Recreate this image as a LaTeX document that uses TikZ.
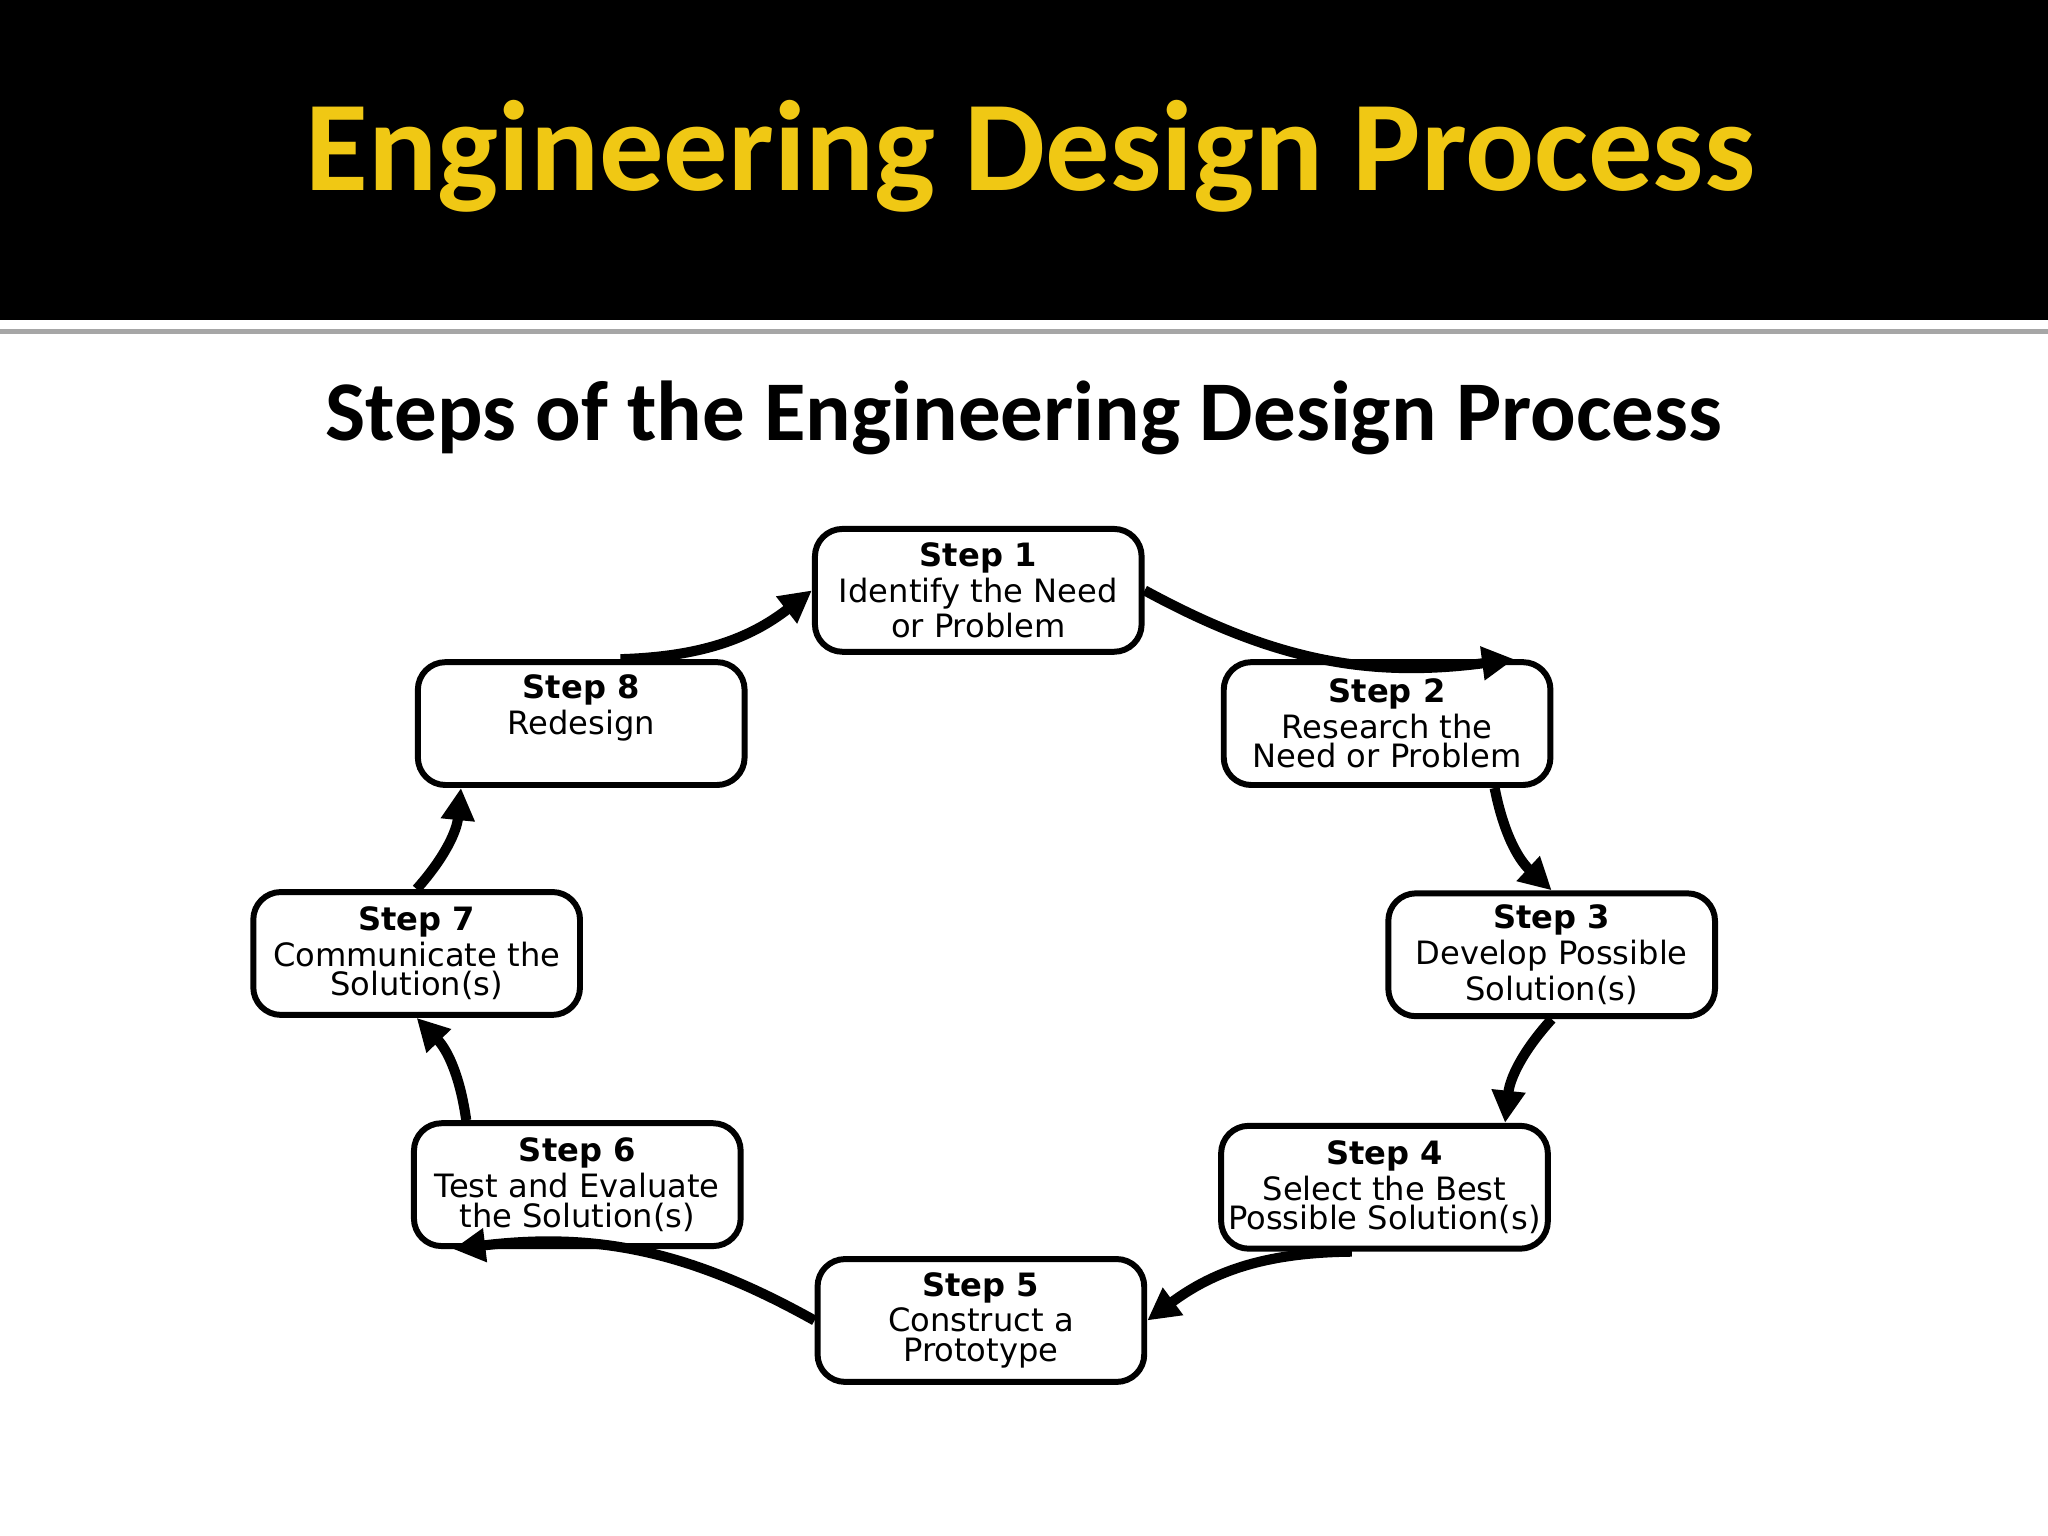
\documentclass[tikz,border=0pt]{standalone}
\usepackage{fontspec}
\setmainfont{DejaVu Sans}
\newfontfamily\titlefont{Carlito}
\usetikzlibrary{arrows.meta}
\begin{document}
\begin{tikzpicture}[x=0.01cm,y=-0.01cm,
  stepbox/.style={draw=black,line width=1.3pt,rounded corners=6pt,minimum width=2.5cm,minimum height=0.94cm,align=center,inner sep=0pt,font=\fontsize{7}{6.4}\selectfont,fill=white},
  conn/.style={line width=2.2pt,-{Triangle[length=7pt,width=7pt]},bend right=18}]
\useasboundingbox (0,0) rectangle (1568,1176);
\fill[black] (0,0) rectangle (1568,245);
\fill[gray!70] (0,252) rectangle (1568,256);
\node[font=\titlefont\bfseries\fontsize{28}{30}\selectfont,text={rgb,255:red,240;green,200;blue,20}] (title) at (789,120) {Engineering Design Process};
\node[font=\titlefont\bfseries\fontsize{18.5}{20}\selectfont] (sub) at (784,320) {Steps of the Engineering Design Process};
\node[stepbox] (s1) at (749,452) {\textbf{Step 1}\\Identify the Need\\or Problem};
\node[stepbox] (s2) at (1062,554) {\textbf{Step 2}\\Research the\\Need or Problem};
\node[stepbox] (s3) at (1188,731) {\textbf{Step 3}\\Develop Possible\\Solution(s)};
\node[stepbox] (s4) at (1060,909) {\textbf{Step 4}\\Select the Best\\Possible Solution(s)};
\node[stepbox] (s5) at (751,1011) {\textbf{Step 5}\\Construct a\\Prototype};
\node[stepbox] (s6) at (442,907) {\textbf{Step 6}\\Test and Evaluate\\the Solution(s)};
\node[stepbox] (s7) at (319,730) {\textbf{Step 7}\\Communicate the\\Solution(s)};
\node[stepbox] (s8) at (445,554) {\textbf{Step 8}\\Redesign\\\strut};
\draw[conn] (s1.east) to ([xshift=-0.3cm]s2.north east);
\draw[conn] ([xshift=-0.45cm]s2.south east) to (s3.north);
\draw[conn] (s3.south) to ([xshift=-0.35cm]s4.north east);
\draw[conn] ([xshift=-0.25cm]s4.south) to (s5.east);
\draw[conn] (s5.west) to ([xshift=-0.95cm]s6.south);
\draw[conn] ([xshift=-0.85cm]s6.north) to (s7.south);
\draw[conn] (s7.north) to ([xshift=-0.92cm]s8.south);
\draw[conn] ([xshift=0.3cm]s8.north) to (s1.west);
\end{tikzpicture}
\end{document}
